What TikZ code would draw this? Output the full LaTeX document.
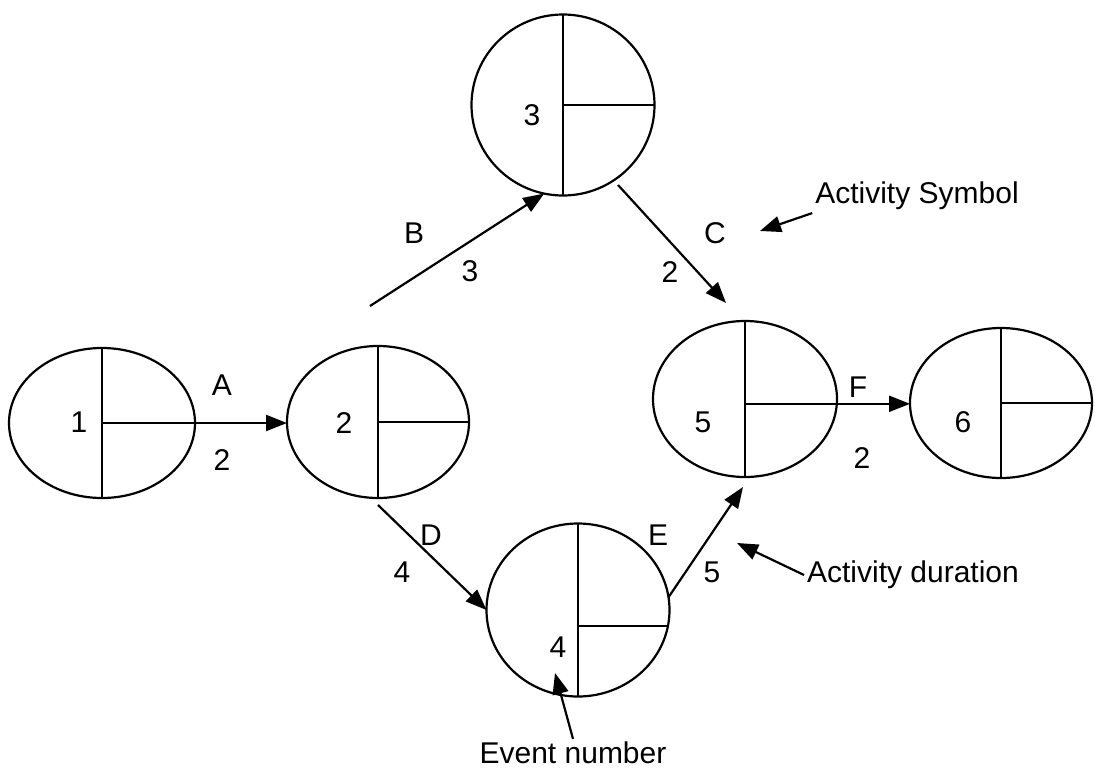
\documentclass[tikz,border=0pt]{standalone}
\usepackage{fontspec}
\setmainfont{Liberation Sans}
\usetikzlibrary{shapes.geometric,arrows.meta}

\begin{document}
\begin{tikzpicture}[x=1pt, y=-1pt, line width=2.2pt,
  event/.style={ellipse, draw, inner sep=0pt, outer sep=0pt},
  act/.style={-{Triangle[length=21pt,width=16pt]}},
  lbl/.style={inner sep=0pt, font=\fontsize{30}{34}\selectfont},
  note/.style={inner sep=2pt, font=\fontsize{30}{34}\selectfont}]

\useasboundingbox (0,0) rectangle (1095,771);

% Event nodes
\node[event, minimum width=186pt, minimum height=150pt] (n1) at (102,423) {};
\node[event, minimum width=182pt, minimum height=152pt] (n2) at (378,422) {};
\node[event, minimum width=183pt, minimum height=181pt] (n3) at (563,105) {};
\node[event, minimum width=183pt, minimum height=173pt] (n4) at (578,610) {};
\node[event, minimum width=184pt, minimum height=156pt] (n5) at (745,399) {};
\node[event, minimum width=182pt, minimum height=150pt] (n6) at (1001,403) {};

% Event node dividers
\draw (n1.north) -- (n1.south);
\draw (n2.north) -- (n2.south);
\draw (n2.center) -- (n2.east);
\draw (n3.north) -- (n3.south);
\draw (n3.center) -- (n3.east);
\draw (n4.north) -- (n4.south);
\draw (n4.north |- n4.-10) -- (n4.-10);
\draw (n5.north) -- (n5.south);
\draw (n6.north) -- (n6.south);
\draw (n6.center) -- (n6.east);

% Event numbers
\node[lbl] (e1) at (79,422) {1};
\node[lbl] (e2) at (344,423) {2};
\node[lbl] (e3) at (532,115) {3};
\node[lbl] (e4) at (558,647) {4};
\node[lbl] (e5) at (703,422) {5};
\node[lbl] (e6) at (963,422) {6};

% Free ends of activities
\coordinate (b0) at (370,306);
\coordinate (c0) at (618,185);
\coordinate (c1) at (726,303);
\coordinate (d0) at (378,505);
\coordinate (f1) at (743,487);

% Activities
\draw[act] (n1.center) -- (n1.center -| n2.west);
\draw[act] (b0) -- (n3.258);
\draw[act] (c0) -- (c1);
\draw[act] (d0) -- (n4.west);
\draw[act] (n4.8) -- (f1);
\draw[act] (n5.north |- n5.-3) -- (n6.west |- n5.-3);

% Activity symbols and durations
\node[lbl] (la) at (222,385) {A};
\node[lbl] (da) at (222,460) {2};
\node[lbl] (lb) at (414,233) {B};
\node[lbl] (db) at (470,271) {3};
\node[lbl] (lc) at (715,233) {C};
\node[lbl] (dc) at (670,272) {2};
\node[lbl] (ld) at (431,535) {D};
\node[lbl] (dd) at (402,572) {4};
\node[lbl] (le) at (658,535) {E};
\node[lbl] (de) at (712,572) {5};
\node[lbl] (lf) at (858,387) {F};
\node[lbl] (df) at (862,458) {2};

% Annotations
\node[note] (sym) at (917,196) {Activity Symbol};
\node[note] (dur) at (913,575) {Activity duration};
\node[note] (evt) at (573,753) {Event number};
\coordinate (t1) at (760,231);
\coordinate (t2) at (737,543);
\coordinate (t3) at (555,673);
\draw[act] (sym.south west) -- (t1);
\draw[act] (dur.west) -- (t2);
\draw[act] (evt.north) -- (t3);

\end{tikzpicture}
\end{document}
